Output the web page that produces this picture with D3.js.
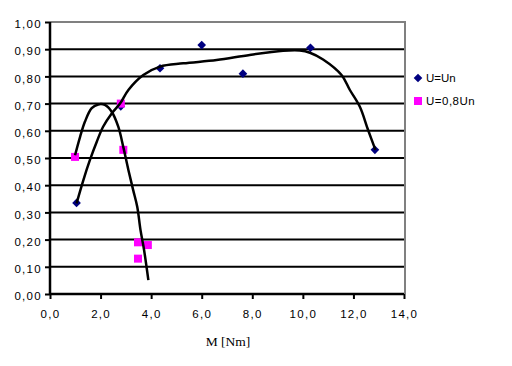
<!DOCTYPE html>
<html><head><meta charset="utf-8">
<script src="https://cdn.jsdelivr.net/npm/d3@7"></script>
<style>
body{margin:0;background:#fff;}
svg text{font-family:"Liberation Sans",Arial,sans-serif;}
</style></head>
<body><svg id="c" width="512" height="366"></svg>
<script>
// Data
const xTicks = [0,2,4,6,8,10,12,14];
const yTicks = [0,0.1,0.2,0.3,0.4,0.5,0.6,0.7,0.8,0.9,1.0];
const seriesNames = ["U=Un","U=0,8Un"];
const unX = [1.05, 2.8, 4.35, 6.0, 7.63, 10.3, 12.85];
const unY = [0.335, 0.69, 0.83, 0.915, 0.81, 0.905, 0.53];
const u08X = [0.99, 2.8, 2.9, 3.48, 3.48, 3.87];
const u08Y = [0.504, 0.70, 0.53, 0.19, 0.13, 0.18];
// trendlines
const trendUnX = [1.05,1.32,1.58,1.85,2.1,2.44,2.77,3.1,3.69,4.35,5.27,6.59,7.9,9.22,9.88,10.28,10.8,11.53,11.86,12.25,12.58,12.87];
const trendUnY = [0.333,0.419,0.493,0.56,0.615,0.664,0.70,0.75,0.805,0.836,0.848,0.86,0.879,0.894,0.895,0.887,0.862,0.805,0.75,0.689,0.603,0.53];
const trend08X = [0.99,1.19,1.38,1.65,1.91,2.17,2.44,2.7,2.9,3.1,3.29,3.45,3.58,3.72,3.89];
const trend08Y = [0.51,0.578,0.633,0.683,0.697,0.695,0.67,0.615,0.54,0.456,0.382,0.321,0.235,0.162,0.051];

const svg = d3.select("#c");
const x = d3.scaleLinear().domain([0,14]).range([50,404]);
const y = d3.scaleLinear().domain([0,1]).range([294,22]);
const fmtY = v => d3.format(".2f")(v).replace(".",",");
const fmtX = v => d3.format(".1f")(v).replace(".",",");

// gridlines
svg.append("g").selectAll("line").data(yTicks.filter(v=>v>0 && v<1)).join("line")
  .attr("x1",x(0)).attr("x2",x(14)).attr("y1",d=>y(d)).attr("y2",d=>y(d))
  .attr("stroke","#000").attr("stroke-width",2);
// border top/right gray
svg.append("path").attr("d",`M${x(0)},${y(1)}H${x(14)+1}V${y(0)}`)
  .attr("fill","none").attr("stroke","#808080").attr("stroke-width",2);

// axes
const yAxis = d3.axisLeft(y).tickValues(yTicks).tickFormat(fmtY).tickSize(5).tickPadding(3);
const gy = svg.append("g").attr("transform",`translate(${x(0)},0)`).call(yAxis);
const xAxis = d3.axisBottom(x).tickValues(xTicks).tickFormat(fmtX).tickSize(5).tickPadding(11);
const gx = svg.append("g").attr("transform",`translate(0,${y(0)})`).call(xAxis);
[gy,gx].forEach(g=>{
  g.select(".domain").attr("stroke","#000").attr("stroke-width",2.5);
  g.selectAll(".tick line").attr("stroke","#000").attr("stroke-width",2);
  g.selectAll(".tick text").attr("fill","#000").style("font-size","11.5px").style("letter-spacing","1.3px");
});
gy.selectAll(".tick text").attr("dy","0.5em");
gy.select(".domain").attr("d",`M0,${y(1)}V${y(0)}`);
gx.select(".domain").attr("d",`M${x(0)},0H${x(14)}`);

svg.append("text").attr("x",228).attr("y",346).attr("text-anchor","middle")
  .style("font-family","'Liberation Serif','Times New Roman',serif").style("font-size","13.5px")
  .text("M [Nm]");

// markers
const diamond = d3.symbol().type(d3.symbolDiamond2).size(48);
svg.append("g").selectAll("path").data(d3.range(unX.length)).join("path")
  .attr("d",diamond).attr("transform",i=>`translate(${x(unX[i])},${y(unY[i])})`)
  .attr("fill","#000080");
svg.append("g").selectAll("rect").data(d3.range(u08X.length)).join("rect")
  .attr("x",i=>x(u08X[i])-4).attr("y",i=>y(u08Y[i])-4).attr("width",8).attr("height",8)
  .attr("fill","#ff00ff");

// trendlines
const line = d3.line().x(d=>x(d[0])).y(d=>y(d[1])).curve(d3.curveCatmullRom.alpha(0.5));
svg.append("path").datum(d3.zip(trendUnX,trendUnY)).attr("d",line)
  .attr("fill","none").attr("stroke","#000").attr("stroke-width",2.5);
svg.append("path").datum(d3.zip(trend08X,trend08Y)).attr("d",line)
  .attr("fill","none").attr("stroke","#000").attr("stroke-width",2.5);

// legend
const lg = svg.append("g");
lg.append("path").attr("d",diamond).attr("transform","translate(418,78)").attr("fill","#000080");
lg.append("rect").attr("x",414).attr("y",97).attr("width",8).attr("height",8).attr("fill","#ff00ff");
lg.append("text").attr("x",426).attr("y",82).style("font-size","11.5px").text(seriesNames[0]);
lg.append("text").attr("x",426).attr("y",105).style("font-size","11.5px").style("letter-spacing","0.5px").text(seriesNames[1]);
</script></body></html>
